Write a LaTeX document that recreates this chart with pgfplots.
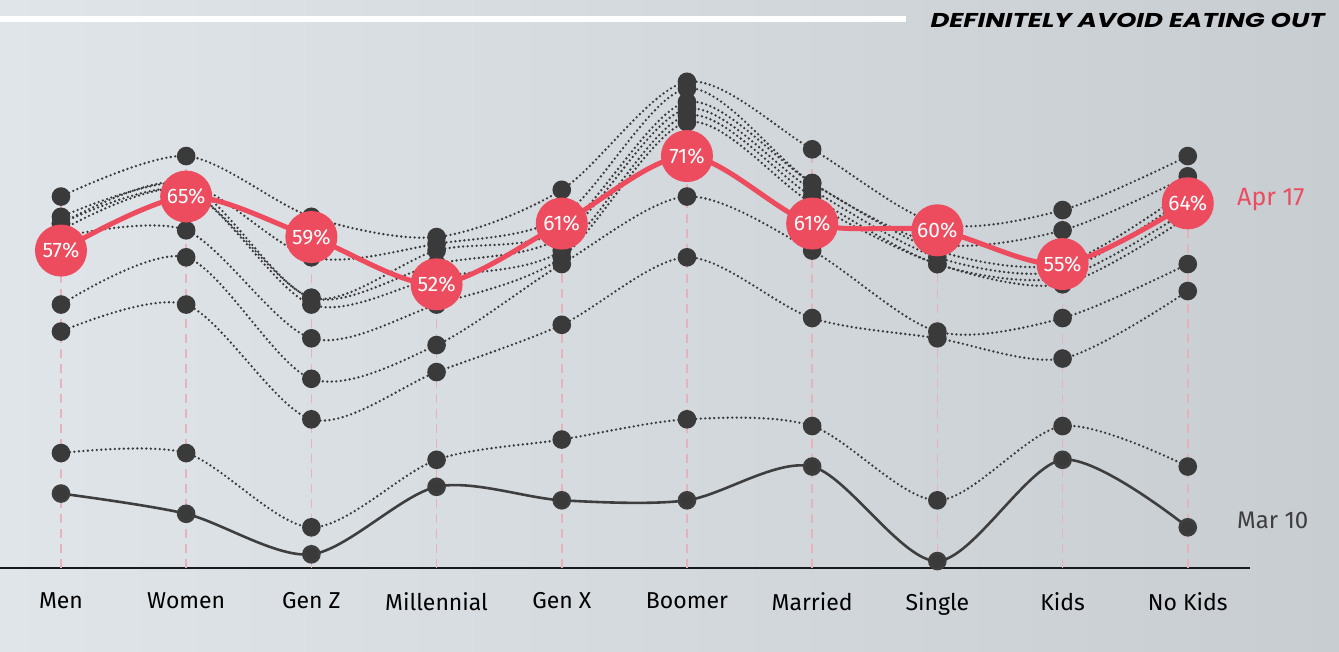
\documentclass[border=0pt]{standalone}
\usepackage{pgfplots}
\pgfplotsset{compat=1.18}
\usepackage{pgfplotstable}
\usepackage{graphicx}
\usepackage{fontspec}
\setmainfont{Fira Sans}
\newfontfamily\titlefont{Poppins}
\definecolor{bgA}{RGB}{224,229,234}
\definecolor{bgB}{RGB}{200,205,210}
\definecolor{redc}{RGB}{236,76,94}
\definecolor{dotc}{RGB}{58,58,58}
\definecolor{pinkc}{RGB}{230,178,188}
\definecolor{grayt}{RGB}{62,62,62}

\pgfplotstableread{
x s1 s2 s3 s4 s5 s6 s7 s8 s9 s10 apr
0 21 27 45 49 59 60 61 61 62 65 57
1 18 27 49 56 60 66 66 67 67 71 65
2 12 16 32 38 44 49 50 50 56 62 59
3 22 26 39 43 49 53 55 57 58 59 52
4 20 29 46 55 56 57 59 60 62 66 61
5 20 32 56 65 76 77 78 79 81 82 71
6 25 31 47 57 64 65 66 67 67 72 61
7 11 20 44 45 55 55 56 57 58 61 60
8 26 31 41 47 52 53 54 55 60 63 55
9 16 25 51 55 62 63 65 66 68 71 64
}\data

\begin{document}
\begin{tikzpicture}[x=1pt,y=1pt]
\useasboundingbox (0,0) rectangle (1339,651);
\shade[left color=bgA, right color=bgB] (0,0) rectangle (1339,651);
\fill[white] (0,629) rectangle (906,635);
\node[anchor=east, inner sep=0pt, font=\titlefont\bfseries\itshape\fontsize{20}{22}\selectfont] at (1325,631) {\scalebox{1.3}[1]{DEFINITELY AVOID EATING OUT}};
\begin{axis}[
  at={(0,123.25)}, anchor=south west, scale only axis,
  width=1250pt, height=536.625pt,
  xmin=-0.487, xmax=9.497, ymin=10, ymax=89.5,
  axis x line=bottom, axis y line=none,
  x axis line style={-, line width=2pt, black!90},
  xtick={0,...,9},
  xticklabels={Men,Women,Gen Z,Millennial,Gen X,Boomer,Married,Single,Kids,No Kids},
  major tick length=0pt,
  xticklabel style={font=\fontsize{23}{26}\selectfont, text=black, yshift=-21pt},
  /pgf/number format/assume math mode=true,
  dotser/.style={smooth, dotc, line width=2.6pt, dash pattern=on 0pt off 4.5pt, line cap=round,
     mark=*, mark size=8pt, mark options={solid, fill=dotc, draw=none}},
]
\addplot[ycomb, pinkc, line width=1.6pt, dash pattern=on 9pt off 6pt] table[x=x, y=s10] {\data};
\addplot[dotser] table[x=x, y=s2] {\data};
\addplot[dotser] table[x=x, y=s3] {\data};
\addplot[dotser] table[x=x, y=s4] {\data};
\addplot[dotser] table[x=x, y=s5] {\data};
\addplot[dotser] table[x=x, y=s6] {\data};
\addplot[dotser] table[x=x, y=s7] {\data};
\addplot[dotser] table[x=x, y=s8] {\data};
\addplot[dotser] table[x=x, y=s9] {\data};
\addplot[dotser] table[x=x, y=s10] {\data};
\addplot[smooth, grayt, line width=2.6pt, mark=*, mark size=8pt, mark options={fill=dotc, draw=none}] table[x=x, y=s1] {\data};
\addplot[smooth, redc, line width=5pt, mark=*, mark size=23.5pt, mark options={fill=redc, draw=none},
  point meta=explicit,
  nodes near coords={\pgfmathprintnumber{\pgfplotspointmeta}\%},
  nodes near coords align=center,
  every node near coord/.append style={text=white, anchor=center, font=\fontsize{21}{22}\selectfont}]
  table[x=x, y=apr, meta=apr] {\data};
\end{axis}
\node[anchor=west, text=redc, inner sep=0pt, font=\fontsize{25}{26}\selectfont] at (1237,451) {Apr 17};
\node[anchor=west, text=grayt, inner sep=0pt, font=\fontsize{24}{26}\selectfont] at (1237,131) {Mar 10};
\end{tikzpicture}
\end{document}
